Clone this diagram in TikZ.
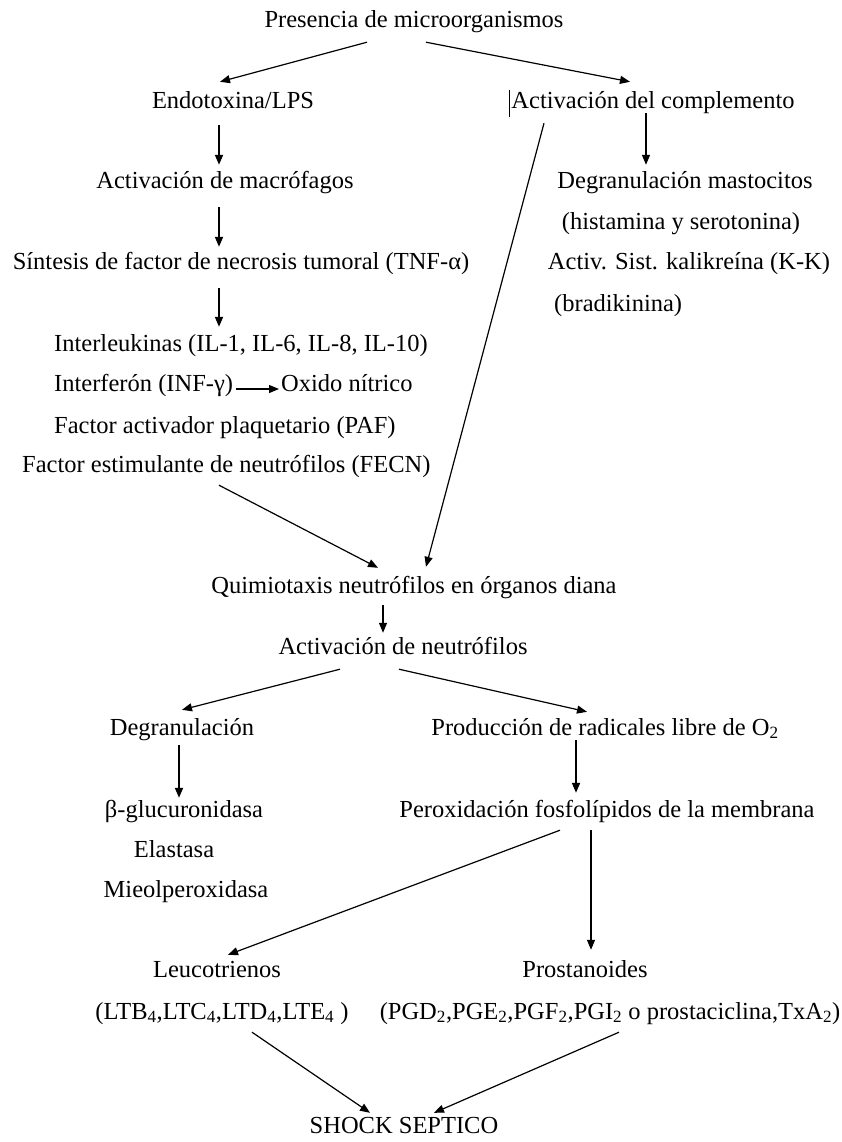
\documentclass[tikz,border=0pt]{standalone}
\usepackage{fontspec}
\setmainfont{Liberation Serif}
\usetikzlibrary{arrows.meta,calc}
\begin{document}
\begin{tikzpicture}[x=1pt,y=-1pt,
  txt/.style={font=\fontsize{24.5}{29}\selectfont, inner sep=0pt, text height=17pt, text depth=5pt, anchor=base},
  txl/.style={txt, anchor=base west},
  arr/.style={-{Triangle[length=10pt,width=8pt]}, line width=1.2pt},
  arrb/.style={arr, line width=1.8pt}]
\useasboundingbox[fill=white] (0,0) rectangle (841,1142);
% nodes
\node[txt] (pres) at (414,28) {Presencia de microorganismos};
\node[txt] (endo) at (233,109) {Endotoxina/LPS};
\node[txt] (comp) at (653,109) {Activación del complemento};
\node[txt] (macro) at (225,189) {Activación de macrófagos};
\node[txt] (sint) at (241,269) {Síntesis de factor de necrosis tumoral (TNF-α)};
\node[txl] (il) at (54,351) {Interleukinas (IL-1, IL-6, IL-8, IL-10)};
\node[txl] (ifn) at (54,391) {Interferón (INF-γ)};
\node[txl] (oxn) at (281,391) {Oxido nítrico};
\node[txl] (paf) at (54,433) {Factor activador plaquetario (PAF)};
\node[txl] (fecn) at (22,472) {Factor estimulante de neutrófilos (FECN)};
\node[txt] (mast) at (685,189) {Degranulación mastocitos};
\node[txt] (hist) at (681,229) {(histamina y serotonina)};
\node[txt] (kal) at (689,269) {Activ. Sist. kalikreína (K-K)};
\node[txl] (brad) at (554,311) {(bradikinina)};
\node[txt] (quim) at (414,593) {Quimiotaxis neutrófilos en órganos diana};
\node[txt] (actn) at (403,654) {Activación de neutrófilos};
\node[txt] (degr) at (182,735) {Degranulación};
\node[txt] (prod) at (605,735) {Producción de radicales libre de O\textsubscript{2}};
\node[txt] (beta) at (184,817) {β-glucuronidasa};
\node[txt] (perox) at (607,817) {Peroxidación fosfolípidos de la membrana};
\node[txt] (elast) at (174,857) {Elastasa};
\node[txt] (mieo) at (186,897) {Mieolperoxidasa};
\node[txt] (leuc) at (217,977) {Leucotrienos};
\node[txt] (prost) at (585,977) {Prostanoides};
\node[txt] (ltb) at (222,1019) {(LTB\textsubscript{4},LTC\textsubscript{4},LTD\textsubscript{4},LTE\textsubscript{4} )};
\node[txt] (pg) at (610,1019) {(PGD\textsubscript{2},PGE\textsubscript{2},PGF\textsubscript{2},PGI\textsubscript{2} o prostaciclina,TxA\textsubscript{2})};
\node[txt] (shock) at (404,1133) {SHOCK SEPTICO};
% stray bar before "Activación del complemento"
\draw[line width=1pt] ($(comp.west)+(-2,-13)$) -- ($(comp.west)+(-2,14)$);
% connectors
\draw[arr] ($(pres.south)+(-47,9)$) -- ($(endo.north)+(-13,-10)$);
\draw[arr] ($(pres.south)+(12,9)$) -- ($(comp.north)+(-23,-10)$);
\draw[arrb] ($(endo.south)+(-14,11)$) -- ($(macro.north)+(-6,-7)$);
\draw[arrb] ($(macro.south)+(-6,13)$) -- ($(sint.north)+(-22,-5)$);
\draw[arrb] ($(sint.south)+(-22,14)$) -- ($(il.north west)+(165,-7)$);
\draw[arr] ($(ifn.base east)+(3,-2)$) -- ($(oxn.base west)+(-2,-2)$);
\draw[arr] ($(fecn.south west)+(197,8)$) -- ($(quim.north)+(-36,-8)$);
\draw[arr] ($(comp.south)+(-109,9)$) -- ($(quim.north)+(12,-9)$);
\draw[arr] ($(comp.south)+(-7,-1)$) -- ($(mast.north)+(-39,-7)$);
\draw[arr] ($(quim.south)+(-31,7)$) -- ($(actn.north)+(-20,-4)$);
\draw[arr] ($(actn.south)+(-63,10)$) -- ($(degr.north)+(0,-8)$);
\draw[arr] ($(actn.south)+(-4,10)$) -- ($(prod.north)+(-18,-6)$);
\draw[arrb] ($(degr.south)+(-3,5)$) -- ($(beta.north)+(-5,-2)$);
\draw[arrb] ($(prod.south)+(-29,0)$) -- ($(perox.north)+(-31,-7)$);
\draw[arr] ($(perox.south)+(-47,8)$) -- ($(leuc.north)+(11,-5)$);
\draw[arr] ($(perox.south)+(-16,8)$) -- ($(prost.north)+(6,-10)$);
\draw[arr] ($(ltb.south)+(30,8)$) -- ($(shock.north)+(-34,-3)$);
\draw[arr] ($(pg.south)+(9,8)$) -- ($(shock.north)+(30,-3)$);
\end{tikzpicture}
\end{document}
